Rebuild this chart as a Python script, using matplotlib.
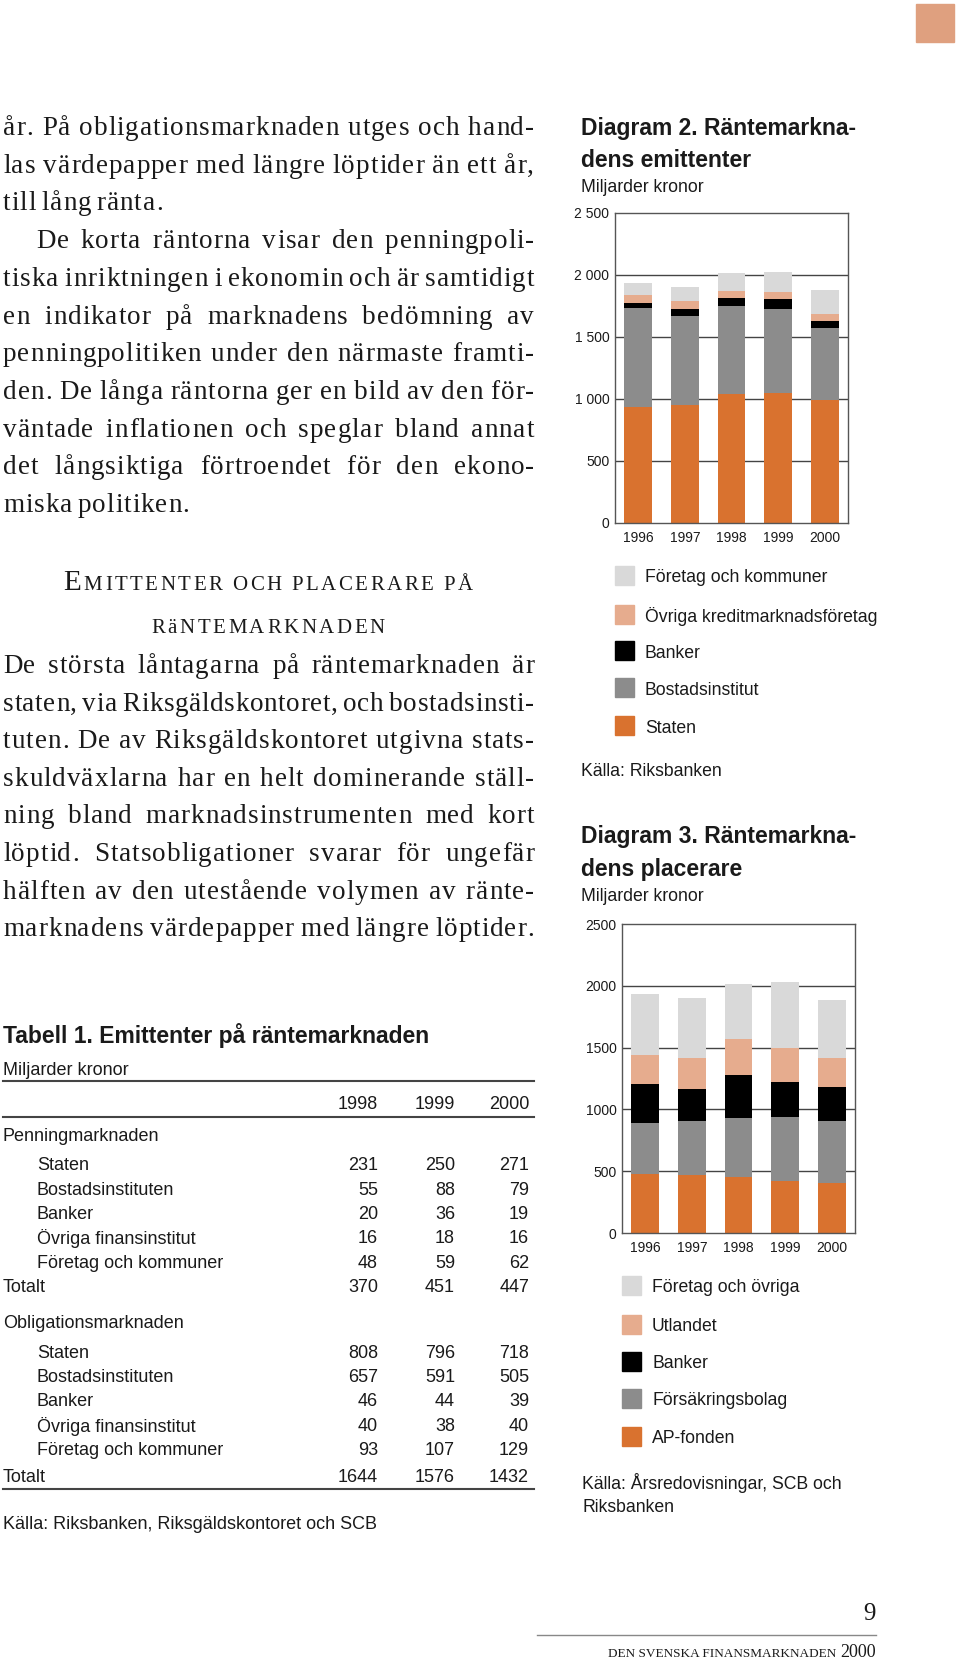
import matplotlib
matplotlib.use("Agg")
import matplotlib.pyplot as plt
from matplotlib.patches import Rectangle

# ---- data ----
years = ["1996", "1997", "1998", "1999", "2000"]

# Diagram 2, emittenter (miljarder kronor)
em_labels = ["Staten", "Bostadsinstitut", "Banker", "Övriga kreditmarknadsföretag", "Företag och kommuner"]
em_staten = [935, 952, 1039, 1046, 989]
em_bostad = [800, 715, 712, 679, 584]
em_banker = [43, 59, 66, 80, 58]
em_ovriga = [57, 65, 56, 56, 56]
em_foretag = [97, 110, 141, 166, 191]

# Diagram 3, placerare (miljarder kronor)
pl_labels = ["AP-fonden", "Försäkringsbolag", "Banker", "Utlandet", "Företag och övriga"]
pl_ap = [477, 469, 450, 418, 402]
pl_forsakr = [410, 440, 480, 520, 504]
pl_banker = [318, 253, 351, 284, 278]
pl_utland = [232, 256, 286, 272, 232]
pl_foretag = [494, 483, 450, 534, 466]

# Tabell 1
tab_years = ["1998", "1999", "2000"]
tab_rows = ["Staten", "Bostadsinstituten", "Banker", "Övriga finansinstitut", "Företag och kommuner"]
penning = [[231, 250, 271], [55, 88, 79], [20, 36, 19], [16, 18, 16], [48, 59, 62]]
penning_tot = [370, 451, 447]
oblig = [[808, 796, 718], [657, 591, 505], [46, 44, 39], [40, 38, 40], [93, 107, 129]]
oblig_tot = [1644, 1576, 1432]

colors = ["#D9722F", "#8C8C8C", "#000000", "#E6AC8E", "#D9D9D9"]

SERIF = "Liberation Serif"
SANS = "Liberation Sans"
INK = "#1a1a1a"
VA = "center_baseline"

fig = plt.figure(figsize=(9.6, 16.6), dpi=100)
bg = fig.add_axes([0, 0, 1, 1])
bg.set_xlim(0, 960)
bg.set_ylim(1660, 0)
bg.axis("off")
r = fig.canvas.get_renderer()


def width_of(t):
    return t.get_window_extent(r).width


def justify(line, y, x0, x1, fs, last=False, track=1.0):
    # justified line, words set letter by letter with a bit of tracking
    words = []
    for w in line.split():
        ts = [bg.text(0, y, ch, fontsize=fs, family=SERIF, va="baseline", color=INK) for ch in w]
        words.append((ts, [width_of(t) for t in ts]))
    n_chars = sum(len(ts) - 1 for ts, _ in words)
    glyphs = sum(sum(ws) for _, ws in words)
    min_gap = fs * 0.28
    if last or len(words) == 1:
        gap = min_gap
    else:
        gap = (x1 - x0 - glyphs - track * n_chars) / (len(words) - 1)
        if gap < min_gap:
            gap = min_gap
            track = (x1 - x0 - glyphs - gap * (len(words) - 1)) / n_chars
    x = x0
    for ts, ws in words:
        for t, w in zip(ts, ws):
            t.set_x(x)
            x += w + track
        x += gap - track


def spaced(segments, y, xc, target):
    ts = []
    for s, fs in segments:
        for ch in s:
            ts.append(bg.text(0, y, ch, fontsize=fs, family=SERIF, va="baseline", color=INK))
    ws = [width_of(t) if t.get_text() != " " else t.get_fontsize() * 0.35 for t in ts]
    extra = (target - sum(ws)) / (len(ts) - 1)
    x = xc - target / 2
    for t, w in zip(ts, ws):
        t.set_x(x)
        x += w + extra


# ---- left column body text ----
FS = 19.5
L, R = 3, 534
para1 = [
    ("år. På obligationsmarknaden utges och hand-", False, 0),
    ("las värdepapper med längre löptider än ett år,", False, 0),
    ("till lång ränta.", True, 0),
    ("De korta räntorna visar den penningpoli-", False, 33),
    ("tiska inriktningen i ekonomin och är samtidigt", False, 0),
    ("en indikator på marknadens bedömning av", False, 0),
    ("penningpolitiken under den närmaste framti-", False, 0),
    ("den. De långa räntorna ger en bild av den för-", False, 0),
    ("väntade inflationen och speglar bland annat", False, 0),
    ("det långsiktiga förtroendet för den ekono-", False, 0),
    ("miska politiken.", True, 0),
]
for i, (ln, last, ind) in enumerate(para1):
    justify(ln, 127 + 37.7 * i + 8, L + ind, R, FS, last)

spaced([("E", 21), ("MITTENTER OCH PLACERARE PÅ", 15)], 590, 268, 409)
spaced([("RäNTEMARKNADEN", 15)], 633, 268, 234)

para2 = [
    "De största låntagarna på räntemarknaden är",
    "staten, via Riksgäldskontoret, och bostadsinsti-",
    "tuten. De av Riksgäldskontoret utgivna stats-",
    "skuldväxlarna har en helt dominerande ställ-",
    "ning bland marknadsinstrumenten med kort",
    "löptid. Statsobligationer svarar för ungefär",
    "hälften av den utestående volymen av ränte-",
    "marknadens värdepapper med längre löptider.",
]
for i, ln in enumerate(para2):
    justify(ln, 665 + 37.6 * i + 8, L, R, FS)

# ---- table ----
TFS = 13
bg.text(3, 1033, "Tabell 1. Emittenter på räntemarknaden", fontsize=16.5, family=SANS,
        fontweight="bold", va=VA, color=INK)
bg.text(3, 1068, "Miljarder kronor", fontsize=TFS, family=SANS, va=VA, color=INK)
for yy in (1081, 1117, 1489):
    bg.plot([3, 534], [yy, yy], color="#444444", lw=1.5)
col_x = [378, 455, 529]
for yr, cx in zip(tab_years, col_x):
    bg.text(cx, 1102, yr, fontsize=TFS, family=SANS, ha="right", va=VA, color=INK)


def table_block(title, y0, rows, tot, y_rows, y_tot):
    bg.text(3, y0, title, fontsize=TFS, family=SANS, va=VA, color=INK)
    for name, vals, yy in zip(tab_rows, rows, y_rows):
        bg.text(37, yy, name, fontsize=TFS, family=SANS, va=VA, color=INK)
        for v, cx in zip(vals, col_x):
            bg.text(cx, yy, str(v), fontsize=TFS, family=SANS, ha="right", va=VA, color=INK)
    bg.text(3, y_tot, "Totalt", fontsize=TFS, family=SANS, va=VA, color=INK)
    for v, cx in zip(tot, col_x):
        bg.text(cx, y_tot, str(v), fontsize=TFS, family=SANS, ha="right", va=VA, color=INK)


table_block("Penningmarknaden", 1134, penning, penning_tot, [1163, 1188, 1212, 1236, 1261], 1285)
table_block("Obligationsmarknaden", 1321, oblig, oblig_tot, [1351, 1375, 1399, 1424, 1448], 1475)
bg.text(3, 1522, "Källa: Riksbanken, Riksgäldskontoret och SCB", fontsize=TFS, family=SANS,
        va=VA, color=INK)


# ---- charts ----
def stacked(box, series, ticklabels):
    x0, y0, x1, y1 = box
    ax = fig.add_axes([x0 / 960, 1 - y1 / 1660, (x1 - x0) / 960, (y1 - y0) / 1660])
    bottom = [0] * len(years)
    for vals, c in zip(series, colors):
        ax.bar(range(len(years)), vals, bottom=bottom, width=0.6, color=c, zorder=2)
        bottom = [b + v for b, v in zip(bottom, vals)]
    ax.set_xlim(-0.5, 4.5)
    ax.set_ylim(0, 2500)
    ax.set_yticks([0, 500, 1000, 1500, 2000, 2500])
    ax.set_yticklabels(ticklabels, fontsize=10, family=SANS)
    ax.set_xticks(range(len(years)))
    ax.set_xticklabels(years, fontsize=10, family=SANS)
    ax.tick_params(length=0, pad=4, colors=INK)
    ax.tick_params(axis="x", pad=6)
    for yv in (500, 1000, 1500, 2000):
        ax.axhline(yv, color="#444444", lw=1, zorder=1)
    for s in ax.spines.values():
        s.set_color("#555555")
        s.set_linewidth(1)
    return ax


def legend(x_sq, ys, labels):
    for yy, lab, c in zip(ys, labels, colors):
        bg.add_patch(Rectangle((x_sq, yy - 9.5), 19, 19, color=c))
        bg.text(x_sq + 30, yy, lab, fontsize=12.7, family=SANS, va=VA, color=INK)


# Diagram 2
bg.text(581, 126, "Diagram 2. Räntemarkna-", fontsize=16.5, family=SANS, fontweight="bold",
        va=VA, color=INK)
bg.text(581, 158, "dens emittenter", fontsize=16.5, family=SANS, fontweight="bold",
        va=VA, color=INK)
bg.text(581, 185, "Miljarder kronor", fontsize=12.7, family=SANS, va=VA, color=INK)
stacked((615, 213, 848, 523), [em_staten, em_bostad, em_banker, em_ovriga, em_foretag],
        ["0", "500", "1 000", "1 500", "2 000", "2 500"])
legend(615, [726, 688, 651, 614, 575], em_labels)
bg.text(581, 769, "Källa: Riksbanken", fontsize=12.7, family=SANS, va=VA, color=INK)

# Diagram 3
bg.text(581, 834, "Diagram 3. Räntemarkna-", fontsize=16.5, family=SANS, fontweight="bold",
        va=VA, color=INK)
bg.text(581, 867, "dens placerare", fontsize=16.5, family=SANS, fontweight="bold",
        va=VA, color=INK)
bg.text(581, 894, "Miljarder kronor", fontsize=12.7, family=SANS, va=VA, color=INK)
stacked((622, 924, 855, 1233), [pl_ap, pl_forsakr, pl_banker, pl_utland, pl_foretag],
        ["0", "500", "1000", "1500", "2000", "2500"])
legend(622, [1436, 1398, 1361, 1324, 1285], pl_labels)
bg.text(582, 1481, "Källa: Årsredovisningar, SCB och", fontsize=12.7, family=SANS, va=VA, color=INK)
bg.text(582, 1505, "Riksbanken", fontsize=12.7, family=SANS, va=VA, color=INK)

# ---- page furniture ----
bg.add_patch(Rectangle((916, 4), 38, 38, color="#DFA07F"))
bg.text(876, 1620, "9", fontsize=18, family=SERIF, ha="right", va="baseline", color=INK)
bg.plot([537, 876], [1635, 1635], color="#888888", lw=1)
t_year = bg.text(876, 1657, "2000", fontsize=13, family=SERIF, ha="right", va="baseline", color=INK)
bg.text(876 - width_of(t_year) - 4, 1657, "DEN SVENSKA FINANSMARKNADEN", fontsize=9.5, family=SERIF,
        ha="right", va="baseline", color=INK)

fig.savefig("out.png", dpi=100)
